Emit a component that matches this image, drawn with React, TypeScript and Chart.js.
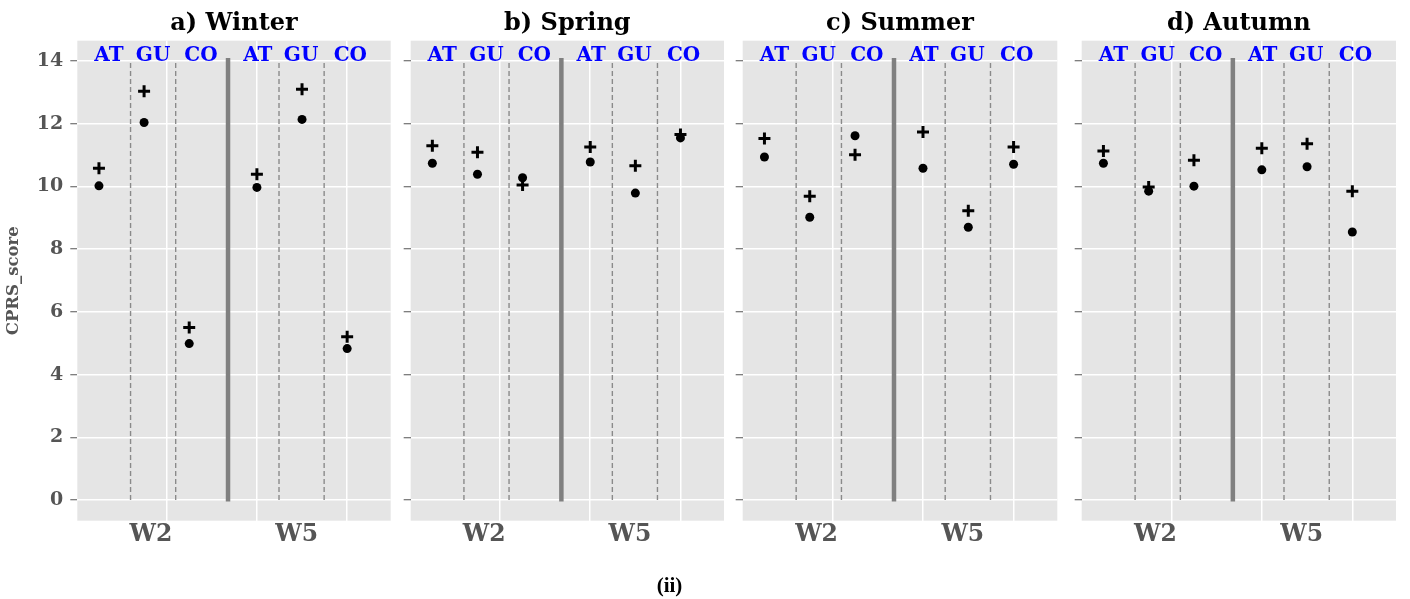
import React, { useEffect, useRef } from "react";
import { Chart, registerables } from "chart.js";
Chart.register(...registerables);

// ---------- data ----------
const SEASONS = ["a) Winter", "b) Spring", "c) Summer", "d) Autumn"];
const SITES = ["AT", "GU", "CO", "AT", "GU", "CO"];
const GROUPS = ["W2", "W5"];
const SITE_X = [0, 1, 2, 3.5, 4.5, 5.5];
const SITE_LABEL_X = [0.22, 1.2, 2.26, 3.52, 4.48, 5.57];
const GROUP_X = [1.15, 4.38];
const DASH_X = [0.7, 1.7, 3.99, 4.99];
const SPLIT_X = 2.86;
const Y_TICKS = [0, 2, 4, 6, 8, 10, 12, 14];
const X_GRID = [1.5, 3.5, 5.5];

const CROSS_WINTER = [10.58, 13.04, 5.5, 10.39, 13.1, 5.21];
const DOT_WINTER = [10.02, 12.04, 4.99, 9.97, 12.14, 4.83];
const CROSS_SPRING = [11.3, 11.09, 10.05, 11.26, 10.66, 11.66];
const DOT_SPRING = [10.74, 10.39, 10.28, 10.78, 9.79, 11.55];
const CROSS_SUMMER = [11.53, 9.69, 11.01, 11.74, 9.23, 11.26];
const DOT_SUMMER = [10.94, 9.02, 11.62, 10.58, 8.7, 10.71];
const CROSS_AUTUMN = [11.13, 9.98, 10.84, 11.22, 11.36, 9.85];
const DOT_AUTUMN = [10.74, 9.85, 10.01, 10.53, 10.63, 8.55];

const CROSS = [CROSS_WINTER, CROSS_SPRING, CROSS_SUMMER, CROSS_AUTUMN];
const DOTS = [DOT_WINTER, DOT_SPRING, DOT_SUMMER, DOT_AUTUMN];

// ---------- layout ----------
const PANEL_L = [77.3, 410.7, 742.7, 1081.7];
const PANEL_R = [390.7, 724, 1057.3, 1396];
const TOP = 40.7;
const BOTTOM = 520.7;
const H = 599;
const X_MIN = -0.48;
const X_MAX = 6.465;
const Y_MIN = -0.66;
const Y_MAX = 14.65;

const SERIF = "'DejaVu Serif', serif";
const GRAY = "#555555";

const bgPlugin = {
  id: "bg",
  beforeDraw(chart: any) {
    const { ctx, chartArea: a } = chart;
    ctx.save();
    ctx.fillStyle = "#E5E5E5";
    ctx.fillRect(a.left, a.top, a.right - a.left, a.bottom - a.top);
    ctx.restore();
  },
};

function textPlugin(title: string) {
  return {
    id: "texts",
    afterDraw(chart: any) {
      const { ctx, chartArea: a } = chart;
      const xs = chart.scales.x;
      const ys = chart.scales.y;
      ctx.save();
      ctx.fillStyle = "#000";
      ctx.font = `bold 24px ${SERIF}`;
      ctx.textAlign = "center";
      ctx.textBaseline = "alphabetic";
      ctx.fillText(title, (a.left + a.right) / 2, 29.5);
      ctx.fillStyle = "#0000FF";
      ctx.font = `bold 20px ${SERIF}`;
      const yb = ys.getPixelForValue(14) - 0.5;
      SITES.forEach((s, k) => {
        ctx.fillText(s, xs.getPixelForValue(SITE_LABEL_X[k]), yb);
      });
      ctx.restore();
    },
  };
}

function Panel({ i }: { i: number }) {
  const ref = useRef<HTMLCanvasElement>(null);
  const canvasLeft = i === 0 ? 0 : Math.round(PANEL_L[i]) - 20;
  const yWidth = PANEL_L[i] - canvasLeft;
  const cw = Math.ceil(PANEL_R[i] - canvasLeft) + 14;
  const padRight = cw - (PANEL_R[i] - canvasLeft);

  useEffect(() => {
    if (!ref.current) return;
    const isFirst = i === 0;
    const datasets: any[] = [
      ...DASH_X.map((x) => ({
        type: "line",
        data: [
          { x, y: 0 },
          { x, y: 14 },
        ],
        borderColor: "#8a8a8a",
        borderWidth: 1.4,
        borderDash: [5, 3],
        pointRadius: 0,
        xAxisID: "x",
        yAxisID: "y",
        order: 10,
      })),
      {
        type: "line",
        data: [
          { x: SPLIT_X, y: -0.05 },
          { x: SPLIT_X, y: 14.1 },
        ],
        borderColor: "#808080",
        borderWidth: 4.5,
        pointRadius: 0,
        xAxisID: "x",
        yAxisID: "y",
        order: 10,
      },
      {
        type: "scatter",
        data: SITE_X.map((x, k) => ({ x, y: CROSS[i][k] })),
        pointStyle: "cross",
        pointRadius: 6,
        borderWidth: 3,
        borderColor: "#000",
        backgroundColor: "#000",
        xAxisID: "x",
        yAxisID: "y",
        order: 1,
      },
      {
        type: "scatter",
        data: SITE_X.map((x, k) => ({ x, y: DOTS[i][k] })),
        pointStyle: "circle",
        pointRadius: 4.5,
        borderWidth: 0,
        borderColor: "#000",
        backgroundColor: "#000",
        xAxisID: "x",
        yAxisID: "y",
        order: 0,
      },
    ];
    const chart = new Chart(ref.current, {
      type: "scatter",
      data: { datasets },
      options: {
        animation: false,
        responsive: false,
        maintainAspectRatio: false,
        events: [],
        layout: { padding: { top: TOP, right: padRight, left: 0, bottom: 0 } },
        plugins: { legend: { display: false }, tooltip: { enabled: false }, title: { display: false } },
        scales: {
          x: {
            type: "linear",
            axis: "x",
            position: "bottom",
            min: X_MIN,
            max: X_MAX,
            afterBuildTicks: (s: any) => {
              s.ticks = X_GRID.map((v) => ({ value: v }));
            },
            ticks: { display: false },
            grid: { color: "#ffffff", lineWidth: 1.5, drawTicks: false },
            border: { display: false },
            afterFit: (s: any) => {
              s.height = 0;
            },
          },
          xg: {
            type: "linear",
            axis: "x",
            position: "bottom",
            min: X_MIN,
            max: X_MAX,
            afterBuildTicks: (s: any) => {
              s.ticks = GROUP_X.map((v) => ({ value: v }));
            },
            ticks: {
              callback: (_v: any, idx: number) => GROUPS[idx],
              font: { family: SERIF, weight: "bold", size: 23.5 },
              color: GRAY,
              padding: 0,
              autoSkip: false,
              maxRotation: 0,
              minRotation: 0,
            },
            grid: { display: false, drawTicks: false },
            border: { display: false },
            afterFit: (s: any) => {
              s.height = H - BOTTOM;
            },
          },
          y: {
            type: "linear",
            position: "left",
            min: Y_MIN,
            max: Y_MAX,
            afterBuildTicks: (s: any) => {
              s.ticks = Y_TICKS.map((v) => ({ value: v }));
            },
            ticks: {
              display: isFirst,
              font: { family: SERIF, weight: "bold", size: 19 },
              color: GRAY,
              padding: 7,
            },
            grid: { color: "#ffffff", lineWidth: 1.5, tickColor: GRAY, tickLength: 7, tickWidth: 1 },
            border: { display: false },
            title: {
              display: isFirst,
              text: "CPRS_score",
              font: { family: SERIF, weight: "bold", size: 16.5 },
              color: GRAY,
              padding: { top: 3.7, bottom: 0 },
            },
            afterFit: (s: any) => {
              s.width = yWidth;
            },
          },
        },
      } as any,
      plugins: [bgPlugin, textPlugin(SEASONS[i])],
    });
    return () => chart.destroy();
  }, [i]);

  return (
    <canvas
      ref={ref}
      width={cw}
      height={H}
      style={{ position: "absolute", left: canvasLeft, top: 0, width: cw, height: H }}
    />
  );
}

export default function App() {
  return (
    <div style={{ position: "absolute", left: 0, top: 0, width: 1410, height: 599, background: "#fff" }}>
      {[0, 1, 2, 3].map((i) => (
        <Panel key={i} i={i} />
      ))}
      <div
        style={{
          position: "absolute",
          left: 669.5,
          top: 575,
          transform: "translateX(-50%)",
          fontFamily: "'Liberation Serif', serif",
          fontWeight: "bold",
          fontSize: 21,
          lineHeight: "21px",
          color: "#000",
          whiteSpace: "nowrap",
        }}
      >
        (ii)
      </div>
    </div>
  );
}
